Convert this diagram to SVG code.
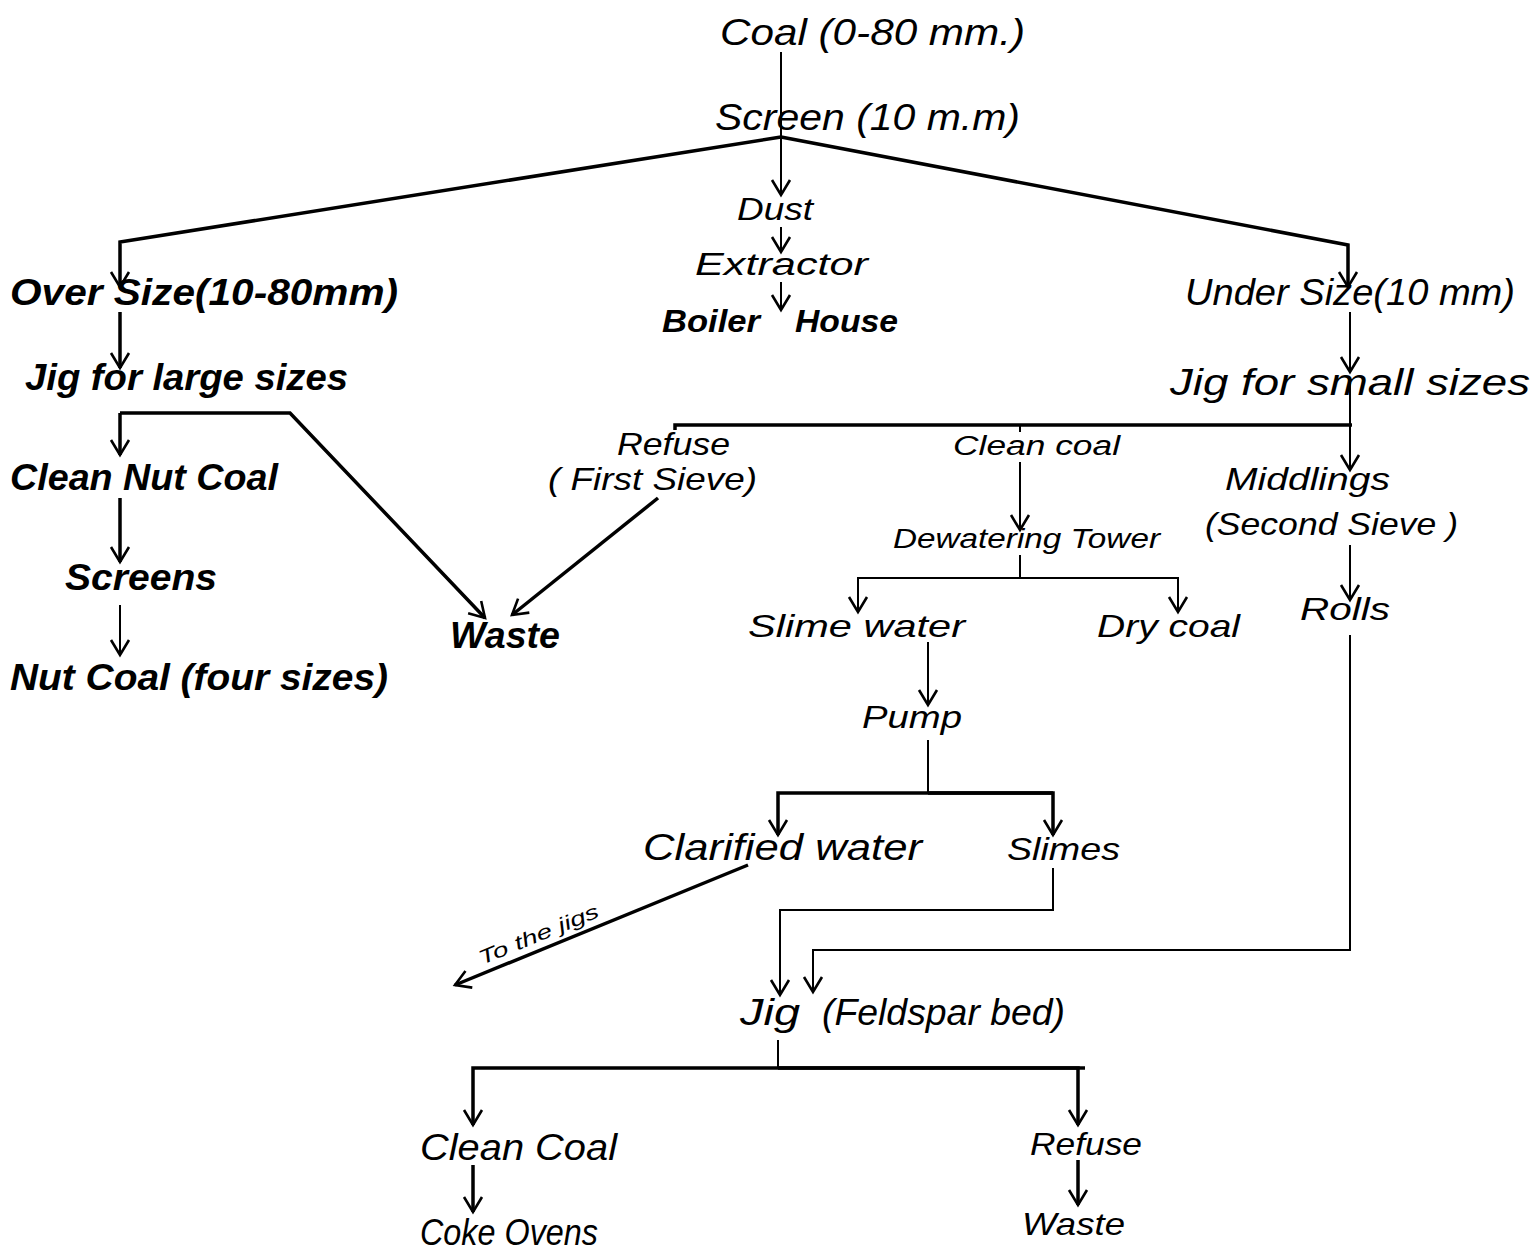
<svg xmlns="http://www.w3.org/2000/svg" width="1539" height="1252" viewBox="0 0 1539 1252">
<defs>
<marker id="ah" markerWidth="24" markerHeight="24" refX="20" refY="12" viewBox="0 0 24 24" markerUnits="userSpaceOnUse" orient="auto">
<polyline points="5,3 20,12 5,21" fill="none" stroke="#000" stroke-width="2.6"/>
</marker>
</defs>
<style>
text{font-family:"Liberation Sans","DejaVu Sans",sans-serif;font-style:italic;fill:#000}
.l{font-size:36px}
.m{font-size:32px}
.s{font-size:27px}
.c line,.c polyline{stroke:#000;stroke-width:2;fill:none}
.c .a{marker-end:url(#ah)}
.c .t{stroke-width:3.5}
</style>
<rect width="1539" height="1252" fill="#fff"/>
<g class="c" id="connectors">
<line x1="781" y1="52" x2="781" y2="137"/>
<polyline points="781,137 120,242 120,287" class="a t"/>
<polyline points="781,137 1348,245 1348,287" class="a t"/>
<line x1="781" y1="137" x2="781" y2="195" class="a"/>
<line x1="781" y1="227" x2="781" y2="252" class="a"/>
<line x1="781" y1="282" x2="781" y2="310" class="a"/>
<line x1="120" y1="312" x2="120" y2="368" class="a t"/>
<polyline points="120,413 290,413 485,618" class="a t"/>
<line x1="120" y1="413" x2="120" y2="455" class="a t"/>
<line x1="120" y1="498" x2="120" y2="562" class="a t"/>
<line x1="120" y1="605" x2="120" y2="655" class="a"/>
<line x1="1350" y1="312" x2="1350" y2="372" class="a"/>
<polyline points="675,430 675,425 1352,425" class="t"/>
<line x1="1350" y1="380" x2="1350" y2="470" class="a"/>
<line x1="658" y1="498" x2="512" y2="615" class="a t"/>
<line x1="1020" y1="425" x2="1020" y2="432"/>
<line x1="1020" y1="462" x2="1020" y2="530" class="a"/>
<line x1="1020" y1="555" x2="1020" y2="578"/>
<polyline points="1178,578 858,578 858,612" class="a"/>
<polyline points="1020,578 1178,578 1178,612" class="a"/>
<line x1="1350" y1="545" x2="1350" y2="600" class="a"/>
<polyline points="1350,635 1350,950 813,950 813,992" class="a"/>
<line x1="928" y1="642" x2="928" y2="705" class="a"/>
<line x1="928" y1="740" x2="928" y2="793"/>
<polyline points="1053,793 778,793 778,835" class="a t"/>
<polyline points="928,793 1053,793 1053,835" class="a t"/>
<polyline points="1053,868 1053,910 780,910 780,995" class="a"/>
<line x1="748" y1="865" x2="455" y2="985" class="a t"/>
<line x1="778" y1="1040" x2="778" y2="1068"/>
<polyline points="1085,1068 473,1068 473,1125" class="a t"/>
<polyline points="778,1068 1078,1068 1078,1125" class="a t"/>
<line x1="473" y1="1165" x2="473" y2="1212" class="a t"/>
<line x1="1078" y1="1160" x2="1078" y2="1205" class="a t"/>
</g>
<g id="coal"><text class="l" x="720" y="45" textLength="305" lengthAdjust="spacingAndGlyphs">Coal (0-80 mm.)</text></g>
<g id="screen"><text class="l" x="715" y="130" textLength="305" lengthAdjust="spacingAndGlyphs">Screen  (10 m.m)</text></g>
<g id="dust"><text class="m" x="737" y="220" textLength="76" lengthAdjust="spacingAndGlyphs">Dust</text></g>
<g id="extractor"><text class="m" x="695" y="275" textLength="173" lengthAdjust="spacingAndGlyphs">Extractor</text></g>
<g id="boiler-house"><text class="m" x="662" y="332" textLength="98" lengthAdjust="spacingAndGlyphs" font-weight="bold">Boiler</text><text class="m" x="795" y="332" textLength="103" lengthAdjust="spacingAndGlyphs" font-weight="bold">House</text></g>
<g id="over-size"><text class="l" x="10" y="305" textLength="388" lengthAdjust="spacingAndGlyphs" font-weight="bold">Over Size(10-80mm)</text></g>
<g id="jig-large"><text class="l" x="25" y="390" textLength="323" lengthAdjust="spacingAndGlyphs" font-weight="bold">Jig for large sizes</text></g>
<g id="clean-nut-coal"><text class="l" x="10" y="490" textLength="268" lengthAdjust="spacingAndGlyphs" font-weight="bold">Clean Nut Coal</text></g>
<g id="screens"><text class="l" x="65" y="590" textLength="152" lengthAdjust="spacingAndGlyphs" font-weight="bold">Screens</text></g>
<g id="nut-coal"><text class="l" x="10" y="690" textLength="378" lengthAdjust="spacingAndGlyphs" font-weight="bold">Nut Coal (four sizes)</text></g>
<g id="waste-1"><text class="l" x="450" y="648" textLength="110" lengthAdjust="spacingAndGlyphs" font-weight="bold">Waste</text></g>
<g id="under-size"><text class="l" x="1185" y="305" textLength="330" lengthAdjust="spacingAndGlyphs">Under Size(10 mm)</text></g>
<g id="jig-small"><text class="l" x="1170" y="395" textLength="360" lengthAdjust="spacingAndGlyphs">Jig for small sizes</text></g>
<g id="refuse-first"><text class="m" x="617" y="455" textLength="113" lengthAdjust="spacingAndGlyphs">Refuse</text><text class="m" x="548" y="490" textLength="209" lengthAdjust="spacingAndGlyphs">( First Sieve)</text></g>
<g id="clean-coal-1"><text class="s" x="953" y="455" textLength="167" lengthAdjust="spacingAndGlyphs">Clean coal</text></g>
<g id="middlings"><text class="m" x="1225" y="490" textLength="165" lengthAdjust="spacingAndGlyphs">Middlings</text><text class="m" x="1205" y="535" textLength="253" lengthAdjust="spacingAndGlyphs">(Second Sieve )</text></g>
<g id="dewatering"><text class="s" x="893" y="548" textLength="267" lengthAdjust="spacingAndGlyphs">Dewatering Tower</text></g>
<g id="slime-water"><text class="m" x="748" y="637" textLength="217" lengthAdjust="spacingAndGlyphs">Slime water</text></g>
<g id="dry-coal"><text class="m" x="1097" y="637" textLength="143" lengthAdjust="spacingAndGlyphs">Dry coal</text></g>
<g id="rolls"><text class="m" x="1300" y="620" textLength="90" lengthAdjust="spacingAndGlyphs">Rolls</text></g>
<g id="pump"><text class="m" x="862" y="728" textLength="100" lengthAdjust="spacingAndGlyphs">Pump</text></g>
<g id="clarified"><text class="l" x="643" y="860" textLength="279" lengthAdjust="spacingAndGlyphs">Clarified water</text></g>
<g id="slimes"><text class="m" x="1007" y="860" textLength="113" lengthAdjust="spacingAndGlyphs">Slimes</text></g>
<g id="to-the-jigs"><text x="482" y="965" font-size="20" transform="rotate(-22.3 482 965)" textLength="128" lengthAdjust="spacingAndGlyphs">To the jigs</text></g>
<g id="jig-feldspar"><text class="l" x="740" y="1025" textLength="60" lengthAdjust="spacingAndGlyphs">Jig</text><text class="l" x="822" y="1025" textLength="243" lengthAdjust="spacingAndGlyphs">(Feldspar bed)</text></g>
<g id="clean-coal-2"><text class="l" x="420" y="1160" textLength="197" lengthAdjust="spacingAndGlyphs">Clean  Coal</text></g>
<g id="refuse-2"><text class="m" x="1030" y="1155" textLength="112" lengthAdjust="spacingAndGlyphs">Refuse</text></g>
<g id="coke-ovens"><text class="l" x="420" y="1245" textLength="178" lengthAdjust="spacingAndGlyphs">Coke Ovens</text></g>
<g id="waste-2"><text class="m" x="1022" y="1235" textLength="103" lengthAdjust="spacingAndGlyphs">Waste</text></g>
</svg>
